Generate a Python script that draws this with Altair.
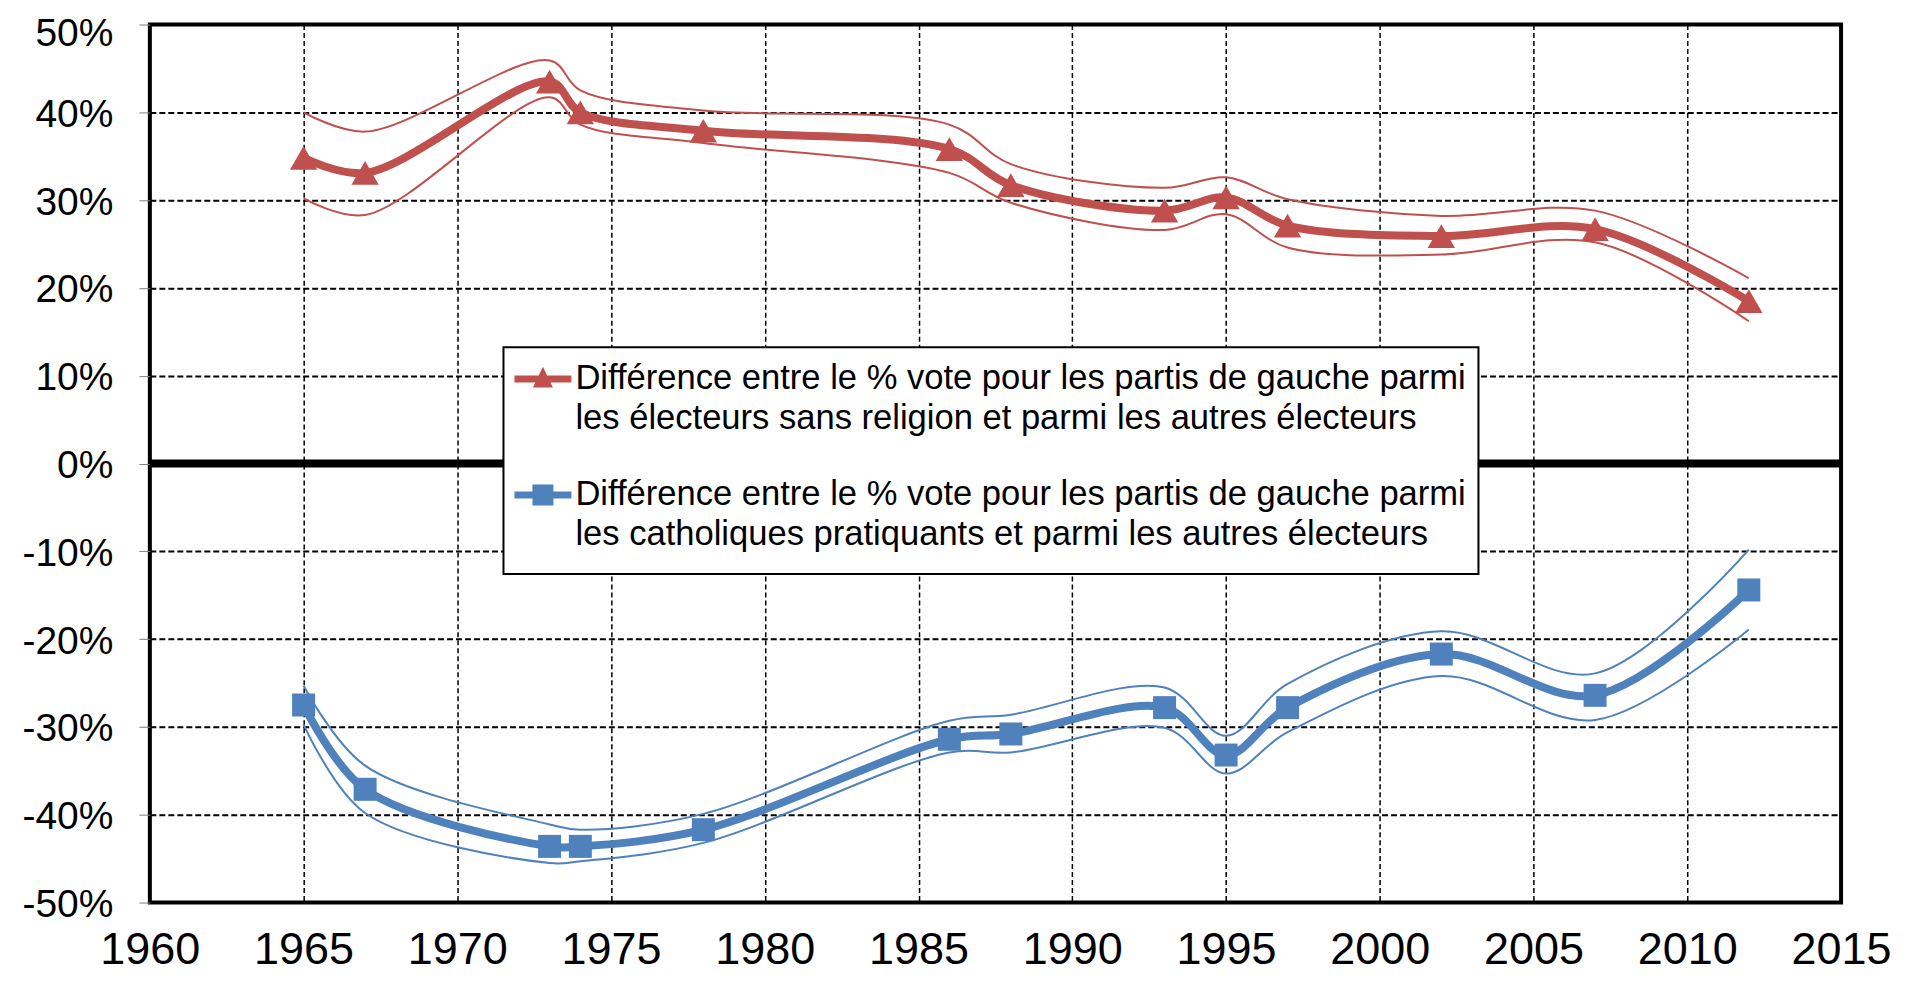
import altair as alt
import pandas as pd

FONT = "Liberation Sans"

years = [1965, 1967, 1973, 1974, 1978, 1986, 1988, 1993, 1995, 1997, 2002, 2007, 2012]

red_main = [34.8, 33.1, 43.5, 40.0, 37.9, 35.8, 31.7, 28.8, 30.3, 27.1, 25.9, 26.7, 18.5]
red_hi = [40.0, 37.8, 45.9, 42.5, 40.2, 38.6, 34.1, 31.4, 32.6, 30.1, 28.2, 28.8, 21.1]
red_lo = [30.2, 28.3, 41.7, 38.6, 36.5, 33.1, 29.7, 26.6, 28.4, 24.6, 23.8, 25.2, 16.2]

blue_main = [-27.5, -37.1, -43.6, -43.6, -41.7, -31.4, -30.8, -27.8, -33.2, -27.8, -21.7, -26.4, -14.4]
blue_hi = [-25.3, -34.4, -41.1, -41.7, -39.9, -29.3, -28.6, -25.5, -31.0, -25.1, -19.1, -23.9, -9.8]
blue_lo = [-29.7, -39.8, -45.5, -45.3, -43.2, -32.9, -32.9, -30.1, -35.3, -30.6, -24.2, -29.2, -18.9]

names = [
    "Différence entre le % vote pour les partis de gauche parmi|les électeurs sans religion et parmi les autres électeurs",
    "Différence entre le % vote pour les partis de gauche parmi|les catholiques pratiquants et parmi les autres électeurs",
]
colors = ["#C0504D", "#4F81BD"]
x_ticks = [1960, 1965, 1970, 1975, 1980, 1985, 1990, 1995, 2000, 2005, 2010, 2015]
y_ticks = [-50, -40, -30, -20, -10, 0, 10, 20, 30, 40, 50]

# legend symbols: line segment + marker (custom paths, unit = 20px)
legend_paths = [
    "M-1.05,-0.175H1.8V0.175H-1.05Z M0.375,-0.625L0.875,0.425L-0.125,0.425Z M0.375,3.3L0.375,3.35",
    "M-1.05,-0.175H1.8V0.175H-1.05Z M-0.15,-0.525H0.9V0.525H-0.15Z M0.375,3.3L0.375,3.35",
]

rows = []
for sname, m, h, l in [("red", red_main, red_hi, red_lo), ("blue", blue_main, blue_hi, blue_lo)]:
    for yr, a, b, c in zip(years, m, h, l):
        rows.append(dict(series=sname, kind="main", year=yr, value=a))
        rows.append(dict(series=sname, kind="hi", year=yr, value=b))
        rows.append(dict(series=sname, kind="lo", year=yr, value=c))
df = pd.DataFrame(rows)

X = alt.X(
    "year:Q",
    scale=alt.Scale(domain=[1960, 2015], nice=False, zero=False),
    axis=alt.Axis(
        values=x_ticks, format="d", title=None, grid=True, gridColor="black",
        gridDash=[5, 3], gridWidth=1.5, ticks=False, tickSize=0, domain=False,
        labelFont=FONT, labelFontSize=45, labelPadding=25, labelColor="black",
        labelFlush=False, labelOverlap=False,
    ),
)
Y = alt.Y(
    "value:Q",
    scale=alt.Scale(domain=[-50, 50], nice=False, zero=False),
    axis=alt.Axis(
        values=y_ticks, labelExpr="datum.value + '%'", title=None, grid=True,
        gridColor="black", gridDash=[6, 3], gridWidth=2, tickSize=11,
        tickColor="#808080", tickWidth=1, domain=False, labelFont=FONT,
        labelFontSize=39, labelPadding=26, labelColor="black", labelFlush=False,
        labelOverlap=False,
        labelOffset={"condition": {"test": "datum.value == 50", "value": 9}, "value": 2},
    ),
)

base = alt.Chart(df)

layers = []
zero = alt.Chart(pd.DataFrame({"z": [0]})).mark_rule(color="black", strokeWidth=8).encode(y=alt.datum(0))
layers.append(zero)

for sname, col, shape, size in [("red", colors[0], "triangle-up", 750), ("blue", colors[1], "square", 530)]:
    ci = base.transform_filter(
        f"datum.series == '{sname}' && datum.kind != 'main'"
    ).mark_line(interpolate="catmull-rom", strokeWidth=2, color=col).encode(
        x=X, y=Y, detail="kind:N"
    )
    main = base.transform_filter(
        f"datum.series == '{sname}' && datum.kind == 'main'"
    ).mark_line(interpolate="catmull-rom", strokeWidth=8, color=col, strokeCap="round").encode(x=X, y=Y)
    pts = base.transform_filter(
        f"datum.series == '{sname}' && datum.kind == 'main'"
    ).mark_point(shape=shape, filled=True, size=size, color=col, opacity=1).encode(x=X, y=Y)
    layers += [ci, main, pts]

leg = alt.Legend(
    title=None, orient="none", legendX=354, legendY=323,
    labelExpr="split(datum.label, '|')", labelFont=FONT, labelFontSize=34.6,
    labelLimit=3000, labelColor="black", symbolSize=1600, symbolStrokeWidth=0,
    symbolOpacity=1, strokeColor="black", fillColor="white", padding=12,
    rowPadding=29, labelOffset=20,
)
legend_df = pd.DataFrame({"name": names, "year": [1960, 1960], "value": [0, 0]})
legend_layer = alt.Chart(legend_df).transform_filter("false").mark_point(filled=True, size=1600).encode(
    x=X, y=Y,
    color=alt.Color("name:N", scale=alt.Scale(domain=names, range=colors), legend=leg),
    shape=alt.Shape("name:N", scale=alt.Scale(domain=names, range=legend_paths), legend=leg),
)
layers.append(legend_layer)

chart = alt.layer(*layers).properties(
    width=1693, height=879,
    padding={"left": 142, "top": 16, "right": 70, "bottom": 70},
    autosize=alt.AutoSizeParams(type="none"),
    background="white",
).configure(
    view=alt.ViewConfig(stroke="black", strokeWidth=4),
    legend=alt.LegendConfig(strokeWidth=2),
    style={"guide-label": {"lineHeight": 40}},
)

chart.save("out.html", embed_options={"renderer": "svg", "actions": False})
